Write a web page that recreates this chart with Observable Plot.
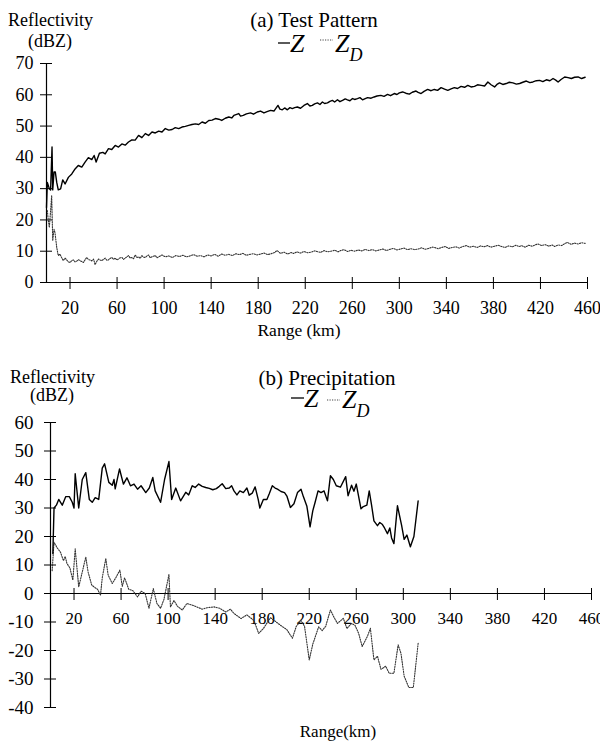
<!DOCTYPE html>
<html>
<head>
<meta charset="utf-8">
<script src="https://cdn.jsdelivr.net/npm/d3@7"></script>
<script src="https://cdn.jsdelivr.net/npm/@observablehq/plot@0.6"></script>
<style>
  html, body { margin: 0; padding: 0; background: #fff; }
  #wrap { position: relative; width: 600px; height: 742px; overflow: hidden; font-family: 'Liberation Serif', 'Times New Roman', serif; }
  #topChart { position: absolute; left: 0; top: 0; }
  #botChart { position: absolute; left: 0; top: 330px; }
  #overlay { position: absolute; left: 0; top: 0; pointer-events: none; font-family: 'Liberation Serif', 'Times New Roman', serif; }
  svg text { font-family: 'Liberation Serif', 'Times New Roman', serif; }
</style>
</head>
<body>
<div id="wrap">
  <div id="topChart"></div>
  <div id="botChart"></div>
  <svg id="overlay" width="600" height="742" fill="#000">
    <!-- panel (a) -->
    <text x="8" y="26" font-size="18">Reflectivity</text>
    <text x="28" y="47" font-size="18">(dBZ)</text>
    <text x="314" y="27" font-size="21" text-anchor="middle">(a) Test Pattern</text>
    <line x1="278" x2="290" y1="43" y2="43" stroke="#000" stroke-width="1.3"></line>
    <text x="290" y="52" font-size="26" font-style="italic">Z</text>
    <line x1="320" x2="333" y1="40" y2="40" stroke="#444" stroke-width="1.1" stroke-dasharray="1.2 1.3"></line>
    <text x="335" y="52" font-size="26" font-style="italic">Z<tspan font-size="18" dy="9">D</tspan></text>
    <text x="299" y="336" font-size="17.5" text-anchor="middle">Range (km)</text>
    <!-- panel (b) -->
    <text x="10" y="383" font-size="18">Reflectivity</text>
    <text x="30" y="401" font-size="18">(dBZ)</text>
    <text x="327" y="385" font-size="21" text-anchor="middle">(b) Precipitation</text>
    <line x1="291" x2="304" y1="398" y2="398" stroke="#000" stroke-width="1.3"></line>
    <text x="304" y="407" font-size="26" font-style="italic">Z</text>
    <line x1="327" x2="340" y1="400" y2="400" stroke="#444" stroke-width="1.1" stroke-dasharray="1.2 1.3"></line>
    <text x="342" y="408" font-size="26" font-style="italic">Z<tspan font-size="18" dy="9">D</tspan></text>
    <text x="338" y="737" font-size="17" text-anchor="middle">Range(km)</text>
  </svg>
</div>
<script>
// ---------- tick labels ----------
const xTicks = [20, 60, 100, 140, 180, 220, 260, 300, 340, 380, 420, 460];
const yTicksA = [0, 10, 20, 30, 40, 50, 60, 70];
const yTicksB = [-40, -30, -20, -10, 0, 10, 20, 30, 40, 50, 60];

// ---------- (a) Test Pattern: Z ----------
const rangeZA = [0,0.7,2.4,3.5,4.7,5.3,6.4,7.5,8.7,10,12,13.8,15.8,18.6,21.5,24.3,27,30,32.8,35.6,38.5,40.5,42.2,45,47.9,49.9,52.7,55.5,58.4,61.2,64.1,66.9,69.7,72.6,75.4,78.3,81.1,84,86.8,89.7,92.5,95.4,98.2,101,104,106.8,109.5,112.4,115.2,118,120.9,123.7,126.6,129.4,132.3,135.1,138,140.8,143.6,146.5,149,152,155,157.5,159.3,163.5,165,167.3,170,173.5,176,179.2,182,184.9,187.5,190.5,193.4,196.8,198.5,200.5,202.5,204.8,207,209,211,213.3,216,218.9,221.8,224,226,228,230.4,232.5,234.6,236.5,238.9,241,243.1,245,247.4,249.5,251.7,254,255.9,258,260.2,262,264.4,266.5,268.7,271,273,276,278.6,281,284.3,287,290,292.5,295.7,298,300,302.8,305.5,308.5,311,314.2,316,318.5,321,324.1,327,329.8,332.5,335.5,338.5,341.2,344,346.8,349.5,352.5,355.5,358.2,361,363.9,366.5,369.6,372.5,375.3,378,381,383,385.2,388,390.9,393.5,396.6,399.5,402.3,405,408,411,413.6,416.5,419.3,422,425,428,430.7,433,435,437.5,440.6,443.5,446.3,449,452,455,458];
const zA = [24,32,30,29.6,43.3,29.6,35.3,35.3,32,29.6,29.9,32.8,31.5,33.6,34.7,36.3,37.4,36.9,38.5,39.9,39.3,40.6,38.5,41.3,41.6,41.1,42.8,42.5,43.8,43.3,44.3,43.9,44.9,45.6,45.5,47,46.3,47.6,47,48.1,47.8,48.4,48.1,49.2,48.7,48.9,49.5,49.2,49.7,49.9,50.2,50.5,50.7,50.5,51.3,50.9,51.8,51.9,52.4,52.2,51.8,52.5,52.9,52.6,53.4,54,53.2,53.4,53.9,54.2,53.8,54.5,54.8,54.2,54.6,55,54.8,56.6,55.4,55.2,55.8,55.2,55.9,55.6,55.9,56.1,55.7,56.6,57.2,56.4,56.6,57.1,57.4,56.9,57.7,57.2,57.4,57.9,58.2,57.7,58.4,57.8,58.2,58.7,58.4,58.1,58.8,58.5,58.8,59.1,58.4,58.8,59.1,58.9,59.3,59.6,59.8,59.5,60.1,59.7,60.4,60.1,60.6,60.9,60.5,60.2,60.8,61.2,60.8,60.4,61.1,61.7,61.3,61.7,61.4,62.3,61.8,61.4,61.9,62.3,62,62.7,62.4,63,62.5,62.7,63.2,63,62.8,64.1,63.2,62.5,63.3,63.8,63.3,63.6,64,63.8,63.4,63.6,64,64.4,63.9,64.1,64.5,64.6,64.2,64.8,64.5,65.2,64.7,64.1,64.9,65.7,65.5,65.2,65.6,65.7,65.2,65.6];

// ---------- (a) Test Pattern: ZD ----------
const rangeZdA = [0.7,1.5,2.4,3.5,4.4,5.3,6.4,7.2,8.7,10,11.4,12.8,14.3,15.8,17.2,18.6,20,21.5,22.9,24.3,25.7,27,28.5,30,31.4,33,34.3,35.7,37.1,38.5,40,41.3,42.8,44.2,45.6,47,48.5,49.9,51.3,52.7,54,55.5,57,58.4,59.8,61.2,62.7,64.1,65.5,66.9,68.3,69.7,71.2,72.6,74,75.4,76.9,78.3,79.7,81.1,82.5,84,85.4,86.8,88.2,89.7,91,92.5,94,95.4,96.8,98.2,101,104,107,110,113,116,119,122,125,128,131,134,137,140,143,146,149,152,155,158,161,164,167,170,173,176,179,182,185,188,191,194,196,199,202,205,208,210,213,216,219,222,225,228,230,233,236,239,242,245,248,250,253,256,259,262,265,268,271,274,277,280,283,286,289,292,295,298,301,304,307,310,313,316,319,322,325,328,330,333,336,339,342,345,348,351,354,357,360,363,366,369,372,375,378,381,384,387,390,393,396,399,402,404,407,410,413,416,418,421,424,427,430,432,435,438,441,443,446,449,452,455,458];
const zdA = [23,20,17.6,23,27.8,13.4,17,16,11.2,8.6,9.1,8,7,7.8,7.2,6.6,6.4,7,7.2,6.6,6.8,7.3,7,6.7,6.4,7.4,8,7.3,7.2,6.9,7.5,5.7,6.8,7.5,7.2,7,7.4,7.8,7.1,7.2,7.7,8,7.4,7.8,7.2,7.5,7.9,8,7.4,7.8,8.2,8.6,7.8,8,7.6,8.8,8,8.2,7.7,8.6,8.1,8,8.5,8.8,7.9,8.2,8.4,8.6,7.9,8.2,8.5,8.8,8.2,8.5,8,8.6,8.3,8.7,8.2,8.5,8.9,8.4,8.6,8.2,8.8,8.5,9,8.4,9.1,8.7,9,8.6,9.2,8.9,9.3,8.7,9,9.2,8.8,9.1,9.4,8.9,9.2,9.6,10.2,9.3,9.7,9.1,9.6,9.3,9.8,9.4,9.9,9.5,9.7,10.1,9.9,9.6,10.2,9.8,10,10.3,9.8,10.2,10.5,9.9,10.3,10,10.4,10.1,10.6,10.2,10.5,10.1,10.4,10.7,10.2,10.6,10.9,10.4,10.7,11,10.5,10.8,10.5,10.7,11.1,10.6,10.9,11.3,11.2,10.8,11.2,11.5,10.9,11.2,11.4,11,11.5,11.8,11.3,11.6,11.2,11.7,11.4,11.8,11.3,11.6,11.9,11.5,11.2,11.7,11.4,11.9,11.5,11.8,11.3,11.9,11.6,12.1,12.3,11.8,12.1,11.6,12,11.5,12,11.8,12.5,12.8,12.2,12.6,12.3,12.7,12.5];

// ---------- (b) Precipitation: Z ----------
const rangeZB = [2,3,5,7,10,13,16,18.5,20,21,24,27,30,33,35.5,38,41,44,46,49.6,52.5,54,55,58.7,62,65,68,71,74,77,81,84,87,89,93.6,97,100.7,103,106.5,110.6,115,117.5,120.5,123,126,129,132,135,138,141,143.5,146,149,152,154,156,158.5,161,164,167,169,171.5,174,176.6,178,181,184,186,188.6,191,193,196,199,201,204,207,210,213,215,218,220.7,223,225,227.5,230,232.6,235.5,238,240.5,243,246.5,251,253,256,258,260,264,266,269,271,273,275,278,280,282,284,286.5,288.5,290,292,295,298.5,300.7,303,306,309,312.6];
const zB = [14,30,31,33,31,34,34,32,30,42,30,40,42.4,33,32,33.6,33,44,45.5,39,38,40,36.7,43.7,38.4,40.6,37.8,38.4,36.6,37.8,35.4,37,40.7,36,32,40,46.3,33,37,32.5,35.5,34.6,37.8,37.2,38.4,37.6,37.2,36.9,36.4,36.8,37.6,38.5,36.8,37,37.8,36,34.6,36,35.4,37,34.5,35.2,37.4,33,30,33,33,35,37.8,37,36.6,35.8,35.4,34.2,30.2,31.5,35.4,36.6,34,30.6,23.4,29,32,36,35.4,36,32.5,41.3,40,37.8,37.3,41,34.3,38,35.9,38.4,29.7,30.5,31,36,31,25.5,23.8,24.9,24.3,23,21,23,19.5,17.5,30.8,24,19,20.5,16.4,20,32.5];

// ---------- (b) Precipitation: ZD ----------
const rangeZdB = [1.4,3,5.7,8.5,11,12.5,14,16.5,19,21,24,27,30,32,35,38,40,42.5,44,47,49,52.5,55.5,59,61,63,66.5,70,74,77,80.5,83.7,87.4,90.5,93.6,96.5,100.7,102,105,108,112,116,120.6,125,129,133,139,144,149,153,156,162,167,173,177,181,187,191,195,201,205.7,209,213,216,220,223,228,231,234,238,241,244,249,252,256,259,262,265,269.5,272,275,278,281,285,288,292,295.6,298,300.7,304.7,308.5,312.6];
const zdB = [8,18,16,14.5,11.5,13,10.5,9,4.7,15.7,2.3,7.5,12.8,7.5,3,2,1.5,-0.6,5.5,12.3,6.5,3.5,5.5,8.2,2.5,5.5,1.5,1,-1.2,0.8,0,-5.2,1.7,-3.5,-5.2,-2,6.7,-4.7,-2.5,-4.5,-5.8,-3.5,-4.1,-4.8,-5.5,-5,-4.7,-5.2,-6.5,-5.5,-7,-8.8,-7.5,-9.5,-14,-12.3,-8.5,-9.7,-11,-12.7,-15.7,-11.5,-9.5,-11.5,-23.3,-17.8,-11.7,-13,-11.5,-5.8,-8.3,-10.5,-8.7,-12.3,-10.5,-11.2,-14,-18.6,-15,-12.2,-23.3,-22,-26.6,-25.5,-28,-28,-18,-21,-29,-33,-33,-17.5];

const serif = "'Liberation Serif', 'Times New Roman', serif";
const font = {fontFamily: serif, background: "transparent", overflow: "visible"};
const zStyle = {stroke: "#000", strokeWidth: 1.4, curve: "linear"};
const zdStyle = {stroke: "#333", strokeWidth: 1.1, strokeDasharray: "1.2 1.3", curve: "linear"};

function axes(yTicks, yDx, xFont, yFont, xDy) {
  return [
    Plot.ruleY([0], {stroke: "#000", strokeWidth: 1.2}),
    Plot.ruleX([0], {stroke: "#000", strokeWidth: 1.2}),
    Plot.ruleX(xTicks, {x: d => d, y1: 0, y2: 0, insetTop: -5, insetBottom: -7, stroke: "#000", strokeWidth: 1}),
    Plot.text(xTicks, {x: d => d, y: 0, dy: xDy, lineAnchor: "bottom", text: d => String(d), fontSize: xFont, fontFamily: serif, fill: "#000"}),
    Plot.ruleY(yTicks, {y: d => d, x1: 0, x2: 0, insetLeft: -6, insetRight: -6, stroke: "#000", strokeWidth: 1}),
    Plot.text(yTicks, {x: 0, y: d => d, dx: yDx, textAnchor: "end", lineAnchor: "middle", text: d => String(d), fontSize: yFont, fontFamily: serif, fill: "#000"})
  ];
}

const topPlot = Plot.plot({
  width: 600, height: 330,
  marginLeft: 46, marginRight: 13, marginTop: 63, marginBottom: 48,
  style: font,
  x: {domain: [0, 460], axis: null},
  y: {domain: [0, 70], axis: null},
  marks: [
    ...axes(yTicksA, -13, 18, 18, 31),
    Plot.line(zdA, {x: rangeZdA, y: zdA, ...zdStyle}),
    Plot.line(zA, {x: rangeZA, y: zA, ...zStyle})
  ]
});
document.getElementById("topChart").appendChild(topPlot);

const botPlot = Plot.plot({
  width: 600, height: 412,
  marginLeft: 50, marginRight: 9, marginTop: 92, marginBottom: 35,
  style: font,
  x: {domain: [0, 460], axis: null},
  y: {domain: [-40, 60], axis: null},
  marks: [
    ...axes(yTicksB, -17, 17, 19, 30),
    Plot.line(zdB, {x: rangeZdB, y: zdB, ...zdStyle}),
    Plot.line(zB, {x: rangeZB, y: zB, ...zStyle})
  ]
});
document.getElementById("botChart").appendChild(botPlot);
</script>
</body>
</html>
